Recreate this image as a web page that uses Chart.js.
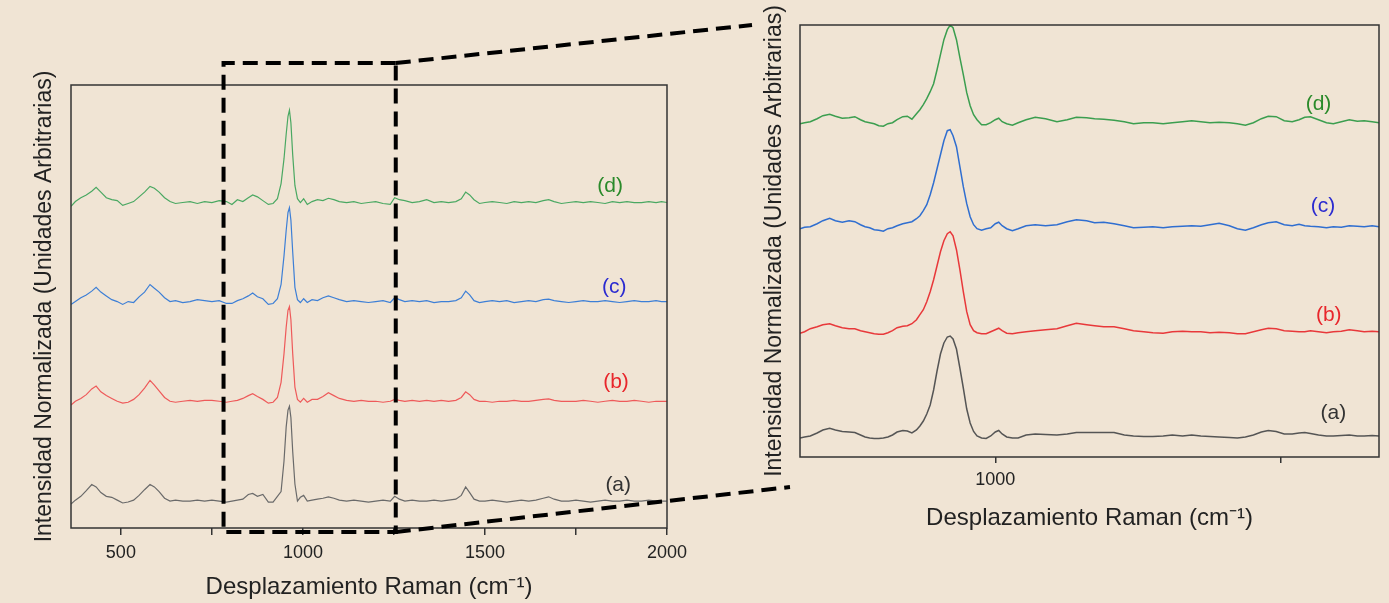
<!DOCTYPE html>
<html>
<head>
<meta charset="utf-8">
<title>Espectros Raman</title>
<script src="https://cdn.jsdelivr.net/npm/chart.js@4.4.0/dist/chart.umd.min.js"></script>
<style>
  body { margin: 0; background: #f0e4d4; }
  #wrap { position: relative; width: 1389px; height: 603px; }
  canvas { position: absolute; top: 0; }
</style>
</head>
<body>
<div id="wrap">
  <canvas id="mainChart" width="1389" height="603" style="left:0"></canvas>
  <canvas id="zoomChart" width="649" height="603" style="left:740px"></canvas>
</div>
<script>
const FONT = "'Liberation Sans', Arial, sans-serif";

// full spectrum, Raman shift in cm-1
const mainShift = [
  363, 375, 390, 405, 420, 432, 445, 460, 475, 490,
  505, 520, 535, 550, 565, 580, 592, 605, 620, 635,
  650, 670, 690, 710, 730, 750, 770, 790, 805, 820,
  835, 850, 862, 875, 890, 905, 918, 930, 940, 948,
  954, 959, 963, 967, 972, 978, 985, 993, 1002, 1012,
  1025, 1040, 1055, 1070, 1085, 1100, 1120, 1140, 1160, 1180,
  1200, 1220, 1240, 1252, 1265, 1280, 1300, 1320, 1340, 1360,
  1380, 1400, 1420, 1435, 1447, 1458, 1470, 1485, 1500, 1520,
  1540, 1560, 1580, 1600, 1620, 1640, 1660, 1675, 1690, 1710,
  1730, 1750, 1770, 1790, 1810, 1830, 1850, 1870, 1890, 1910,
  1930, 1950, 1970, 1985, 2000
];
const mainA = [
  -0.03, 0.01, 0.05, 0.11, 0.175, 0.15, 0.09, 0.05, 0.04, 0.01,
  -0.02, -0.01, 0.01, 0.06, 0.12, 0.175, 0.15, 0.10, 0.03, 0.00,
  0.01, 0.00, 0.00, 0.01, 0.00, 0.01, 0.00, -0.01, 0.00, 0.01,
  0.02, 0.07, 0.08, 0.05, 0.07, -0.01, -0.01, 0.05, 0.10, 0.42,
  0.78, 0.96, 1.00, 0.88, 0.52, 0.18, 0.00, 0.04, 0.06, 0.00,
  0.01, 0.02, 0.03, 0.045, 0.03, 0.01, 0.00, 0.01, 0.00, -0.01,
  0.00, 0.01, 0.00, 0.05, 0.02, 0.00, 0.01, 0.00, 0.00, 0.01,
  0.00, 0.01, 0.02, 0.06, 0.15, 0.09, 0.02, 0.00, 0.00, 0.01,
  0.00, -0.01, 0.00, 0.01, 0.00, 0.01, 0.03, 0.045, 0.02, 0.00,
  0.00, 0.01, 0.00, -0.01, 0.00, 0.01, 0.00, 0.00, 0.01, 0.00,
  0.00, 0.01, 0.00, 0.00, 0.00
];
const mainB = [
  -0.04, 0.00, 0.03, 0.07, 0.13, 0.16, 0.10, 0.06, 0.03, 0.00,
  -0.02, -0.01, 0.02, 0.07, 0.14, 0.22, 0.17, 0.11, 0.04, 0.00,
  -0.01, 0.00, 0.01, 0.00, 0.01, 0.01, 0.00, -0.01, 0.00, 0.01,
  0.03, 0.06, 0.08, 0.05, 0.02, -0.02, -0.01, 0.04, 0.20, 0.50,
  0.78, 0.96, 1.00, 0.86, 0.50, 0.15, 0.02, -0.01, 0.03, -0.01,
  0.02, 0.02, 0.05, 0.09, 0.06, 0.03, 0.01, 0.00, 0.01, 0.00,
  0.00, -0.01, 0.00, 0.02, 0.01, 0.00, 0.01, 0.00, 0.01, 0.00,
  0.01, 0.00, 0.01, 0.04, 0.10, 0.07, 0.02, 0.00, 0.00, -0.01,
  0.00, 0.00, 0.01, 0.00, 0.00, 0.01, 0.02, 0.025, 0.01, 0.00,
  0.00, 0.00, 0.01, 0.00, -0.01, 0.00, 0.01, 0.00, 0.00, 0.01,
  0.00, -0.01, 0.00, 0.00, 0.00
];
const mainC = [
  -0.03, 0.00, 0.04, 0.07, 0.11, 0.15, 0.10, 0.06, 0.02, 0.00,
  -0.03, 0.00, -0.01, 0.05, 0.10, 0.18, 0.14, 0.10, 0.04, 0.00,
  0.01, -0.01, 0.00, 0.02, 0.01, 0.00, 0.01, -0.02, -0.02, 0.01,
  0.03, 0.06, 0.09, 0.05, 0.03, -0.03, -0.02, 0.03, 0.18, 0.48,
  0.75, 0.94, 0.99, 0.86, 0.52, 0.15, 0.02, -0.01, 0.03, -0.01,
  0.02, 0.01, 0.04, 0.06, 0.04, 0.02, 0.00, 0.01, 0.00, -0.01,
  0.00, 0.01, -0.01, 0.04, 0.02, 0.00, 0.01, 0.00, 0.01, -0.01,
  0.00, 0.00, 0.01, 0.04, 0.11, 0.07, 0.01, -0.01, 0.00, 0.01,
  0.00, 0.01, -0.01, 0.00, 0.01, 0.00, 0.02, 0.025, 0.01, 0.00,
  -0.01, 0.00, 0.01, 0.00, 0.00, 0.01, 0.00, -0.01, 0.00, 0.01,
  0.00, 0.00, 0.01, 0.00, 0.00
];
const mainD = [
  -0.04, 0.01, 0.05, 0.08, 0.12, 0.16, 0.11, 0.05, 0.03, 0.02,
  -0.03, -0.01, 0.01, 0.06, 0.11, 0.17, 0.15, 0.11, 0.05, 0.01,
  -0.01, 0.00, 0.01, -0.01, 0.01, 0.00, 0.02, 0.01, -0.02, 0.03,
  0.01, 0.05, 0.08, 0.06, 0.02, -0.02, -0.01, 0.04, 0.20, 0.46,
  0.72, 0.91, 0.975, 0.84, 0.50, 0.18, 0.04, 0.00, 0.04, -0.02,
  0.01, 0.03, 0.02, 0.045, 0.03, 0.01, 0.00, 0.01, -0.01, 0.00,
  0.01, -0.01, -0.02, 0.05, 0.03, 0.02, 0.00, 0.01, 0.03, 0.00,
  0.01, 0.00, 0.01, 0.04, 0.11, 0.08, 0.03, -0.01, 0.00, 0.01,
  0.00, -0.01, 0.01, 0.00, 0.01, 0.00, 0.02, 0.03, 0.01, -0.01,
  0.00, 0.01, 0.00, 0.01, 0.00, -0.01, 0.01, 0.00, 0.01, 0.00,
  0.00, 0.01, 0.00, 0.01, 0.00
];

// enlarged region around the 960 cm-1 band
const zoomShift = [
  829, 833, 838, 844, 849, 855, 860, 866, 872, 877,
  882, 886, 890, 894, 898, 902, 906, 910, 914, 919,
  923, 927, 931, 934, 937, 940, 943, 946, 949, 952,
  955, 958, 960.5, 963, 966, 969, 972, 975, 978, 981,
  984, 988, 992, 996, 1000, 1003, 1006, 1010, 1015, 1020,
  1027, 1035, 1044, 1054, 1063, 1071, 1080, 1087, 1095, 1104,
  1113, 1121, 1130, 1138, 1147, 1155, 1164, 1172, 1180, 1188,
  1196, 1205, 1212, 1219, 1226, 1233, 1239, 1246, 1253, 1260,
  1266, 1271, 1276, 1283, 1290, 1296, 1303, 1310, 1317, 1323,
  1330, 1336
];
const zoomA = [
  -0.02, -0.01, 0.00, 0.03, 0.06, 0.077, 0.06, 0.045, 0.04, 0.035,
  0.01, -0.01, -0.02, -0.025, -0.025, -0.02, -0.01, 0.01, 0.04, 0.055,
  0.05, 0.03, 0.06, 0.10, 0.15, 0.22, 0.31, 0.46, 0.65, 0.82,
  0.93, 0.99, 1.00, 0.97, 0.87, 0.68, 0.48, 0.27, 0.13, 0.045,
  0.00, -0.02, -0.025, 0.00, 0.04, 0.055, 0.02, -0.01, -0.02, -0.02,
  0.01, 0.02, 0.015, 0.01, 0.02, 0.035, 0.035, 0.035, 0.035, 0.035,
  0.01, 0.00, -0.005, -0.005, 0.00, 0.01, 0.00, 0.01, 0.00, -0.005,
  -0.01, -0.015, -0.02, -0.01, 0.01, 0.04, 0.055, 0.045, 0.02, 0.02,
  0.03, 0.035, 0.025, 0.01, 0.00, 0.00, 0.005, 0.01, 0.00, 0.00,
  0.005, 0.00
];
const zoomB = [
  -0.015, 0.00, 0.03, 0.05, 0.07, 0.08, 0.06, 0.04, 0.03, 0.03,
  0.01, 0.00, -0.01, -0.02, -0.025, -0.025, -0.01, 0.01, 0.04, 0.055,
  0.06, 0.08, 0.12, 0.17, 0.22, 0.30, 0.40, 0.52, 0.66, 0.80,
  0.91, 0.98, 1.00, 0.96, 0.82, 0.62, 0.40, 0.20, 0.07, 0.01,
  -0.01, -0.02, -0.02, 0.00, 0.02, 0.035, 0.01, -0.015, -0.02, -0.01,
  0.00, 0.01, 0.02, 0.03, 0.06, 0.085, 0.07, 0.06, 0.05, 0.05,
  0.03, 0.01, 0.00, -0.01, -0.015, 0.00, 0.005, 0.00, 0.00, -0.01,
  -0.005, -0.01, -0.02, -0.02, 0.00, 0.02, 0.035, 0.03, 0.01, 0.005,
  0.00, 0.00, 0.01, 0.00, -0.01, 0.00, 0.005, 0.02, 0.01, 0.00,
  0.005, 0.00
];
const zoomC = [
  -0.02, -0.005, 0.00, 0.03, 0.06, 0.085, 0.06, 0.045, 0.06, 0.05,
  0.02, 0.00, -0.01, -0.03, -0.035, -0.045, -0.02, -0.01, 0.01, 0.03,
  0.04, 0.05, 0.08, 0.11, 0.16, 0.22, 0.32, 0.44, 0.58, 0.72,
  0.86, 0.96, 0.97, 0.91, 0.80, 0.60, 0.40, 0.23, 0.10, 0.02,
  -0.02, -0.035, -0.02, -0.01, 0.03, 0.045, 0.01, -0.02, -0.04, -0.02,
  0.01, 0.02, 0.01, 0.02, 0.05, 0.07, 0.06, 0.04, 0.045, 0.03,
  0.01, -0.01, -0.005, 0.00, -0.01, 0.00, 0.005, 0.01, 0.005, 0.02,
  0.035, 0.01, -0.02, -0.035, -0.01, 0.02, 0.04, 0.05, 0.02, 0.01,
  0.025, 0.01, 0.005, 0.00, -0.01, 0.00, -0.005, 0.01, 0.005, 0.00,
  0.01, 0.00
];
const zoomD = [
  -0.01, 0.00, 0.01, 0.04, 0.07, 0.085, 0.065, 0.045, 0.05, 0.06,
  0.03, 0.01, 0.00, -0.01, -0.03, -0.035, -0.01, 0.00, 0.03, 0.06,
  0.065, 0.035, 0.09, 0.13, 0.18, 0.24, 0.31, 0.39, 0.53, 0.68,
  0.83, 0.93, 0.975, 0.95, 0.83, 0.65, 0.48, 0.30, 0.17, 0.08,
  0.03, -0.02, -0.02, 0.00, 0.03, 0.045, 0.01, -0.01, -0.025, 0.00,
  0.03, 0.055, 0.04, 0.01, 0.03, 0.055, 0.05, 0.04, 0.035, 0.025,
  0.01, -0.01, 0.00, 0.00, -0.01, 0.00, 0.01, 0.02, 0.01, 0.00,
  0.005, 0.00, -0.01, -0.025, 0.00, 0.04, 0.065, 0.06, 0.02, 0.01,
  0.03, 0.055, 0.06, 0.03, 0.00, -0.01, 0.01, 0.03, 0.015, 0.02,
  0.01, 0.00
];

const seriesNames = ["(a)", "(b)", "(c)", "(d)"];
const mainOffsets = [0, 1.053, 2.105, 3.15];
const zoomOffsets = [0, 1.043, 2.093, 3.133];
const tickValues = [500, 750, 1000, 1250, 1500, 1750, 2000];
const tickLabels = [500, 1000, 1500, 2000];
const zoomFrom = 782, zoomTo = 1255;

// where the (a)..(d) tags sit: shift and height above each trace
const mainTagShift = [1866, 1860, 1855, 1844];
const mainTagLift = [0.17, 0.2, 0.15, 0.17];
const zoomTagShift = [1296, 1292, 1287, 1283];
const zoomTagLift = [0.23, 0.16, 0.2, 0.18];

const tagColors = ["#333333", "#e8262b", "#2b2bd0", "#2a8a2a"];
const mainColors = ["#6a6a6a", "#ee5a5a", "#3d7fd6", "#4aa862"];
const zoomColors = ["#555555", "#e8383a", "#2f6ed0", "#3b9e4f"];

function points(shift, values, offset) {
  return shift.map((x, i) => ({ x: x, y: values[i] + offset }));
}

function makeDatasets(shift, list, offsets, colors, width) {
  return list.map((vals, i) => ({
    label: seriesNames[i],
    data: points(shift, vals, offsets[i]),
    borderColor: colors[i],
    borderWidth: width,
    pointRadius: 0,
    tension: 0,
    fill: false,
  }));
}

function framePlugin(tagShift, tagLift, offsets) {
  return {
    id: "frame",
    afterDatasetsDraw(chart) {
      const { ctx, chartArea: a, scales } = chart;
      ctx.save();
      ctx.strokeStyle = "#333";
      ctx.lineWidth = 1.5;
      ctx.strokeRect(a.left, a.top, a.right - a.left, a.bottom - a.top);
      ctx.font = "21px " + FONT;
      ctx.textAlign = "center";
      ctx.textBaseline = "middle";
      seriesNames.forEach((n, i) => {
        ctx.fillStyle = tagColors[i];
        ctx.fillText(n, scales.x.getPixelForValue(tagShift[i]),
          scales.y.getPixelForValue(offsets[i] + tagLift[i]));
      });
      ctx.restore();
    },
  };
}

const zoomBox = {
  id: "zoomBox",
  afterDraw(chart) {
    const { ctx, chartArea: a, scales: { x } } = chart;
    const x1 = x.getPixelForValue(zoomFrom);
    const x2 = x.getPixelForValue(zoomTo);
    const top = a.top - 22, bottom = a.bottom + 4;
    ctx.save();
    ctx.strokeStyle = "#000";
    ctx.lineWidth = 4;
    ctx.setLineDash([15, 8]);
    ctx.beginPath();
    ctx.moveTo(x2, top);
    ctx.lineTo(x1, top);
    ctx.lineTo(x1, bottom);
    ctx.lineTo(x2, bottom);
    ctx.lineTo(x2, top);
    ctx.stroke();
    // lines out to the enlarged plot
    ctx.beginPath();
    ctx.moveTo(x2, top);
    ctx.lineTo(752, 25);
    ctx.moveTo(x2, bottom);
    ctx.lineTo(790, 487);
    ctx.stroke();
    ctx.restore();
  },
};

function xAxis(min, max, height, tickSize, tl, pad, titlePad) {
  return {
    type: "linear",
    min: min,
    max: max,
    afterFit(s) { s.height = height; },
    afterBuildTicks(s) {
      s.ticks = tickValues.filter((v) => v >= min && v <= max).map((v) => ({ value: v }));
    },
    border: { display: false },
    grid: { drawOnChartArea: false, tickLength: tl, color: "#333", lineWidth: 1.5 },
    ticks: {
      autoSkip: false,
      maxRotation: 0,
      padding: pad,
      color: "#222",
      font: { family: FONT, size: tickSize },
      callback: (v) => (tickLabels.includes(v) ? String(v) : ""),
    },
    title: {
      display: true,
      text: "Desplazamiento Raman (cm\u207B\u00B9)",
      color: "#222",
      font: { family: FONT, size: 24 },
      padding: { top: 0, bottom: titlePad },
    },
  };
}

function yAxis(min, max, width, titlePad) {
  return {
    min: min,
    max: max,
    afterFit(s) { s.width = width; },
    grid: { display: false },
    border: { display: false },
    ticks: { display: false },
    title: {
      display: true,
      text: "Intensidad Normalizada (Unidades Arbitrarias)",
      color: "#222",
      font: { family: FONT, size: 23 },
      padding: { top: titlePad, bottom: 0 },
    },
  };
}

const baseOptions = {
  responsive: false,
  animation: false,
  devicePixelRatio: 1,
  plugins: { legend: { display: false }, tooltip: { enabled: false } },
};

new Chart(document.getElementById("mainChart"), {
  type: "line",
  data: { datasets: makeDatasets(mainShift, [mainA, mainB, mainC, mainD], mainOffsets, mainColors, 1.2) },
  options: Object.assign({}, baseOptions, {
    layout: { padding: { left: 0, top: 85, right: 722, bottom: 0 } },
    scales: {
      x: xAxis(363, 2000, 75, 18, 7, 7, 1),
      y: yAxis(-0.284, 4.39, 71, 31),
    },
  }),
  plugins: [framePlugin(mainTagShift, mainTagLift, mainOffsets), zoomBox],
});

new Chart(document.getElementById("zoomChart"), {
  type: "line",
  data: { datasets: makeDatasets(zoomShift, [zoomA, zoomB, zoomC, zoomD], zoomOffsets, zoomColors, 1.5) },
  options: Object.assign({}, baseOptions, {
    layout: { padding: { left: 0, top: 25, right: 10, bottom: 66 } },
    scales: {
      x: xAxis(829, 1336, 80, 18, 6, 6, 4),
      y: yAxis(-0.21, 4.11, 60, 21),
    },
  }),
  plugins: [framePlugin(zoomTagShift, zoomTagLift, zoomOffsets)],
});
</script>
</body>
</html>
